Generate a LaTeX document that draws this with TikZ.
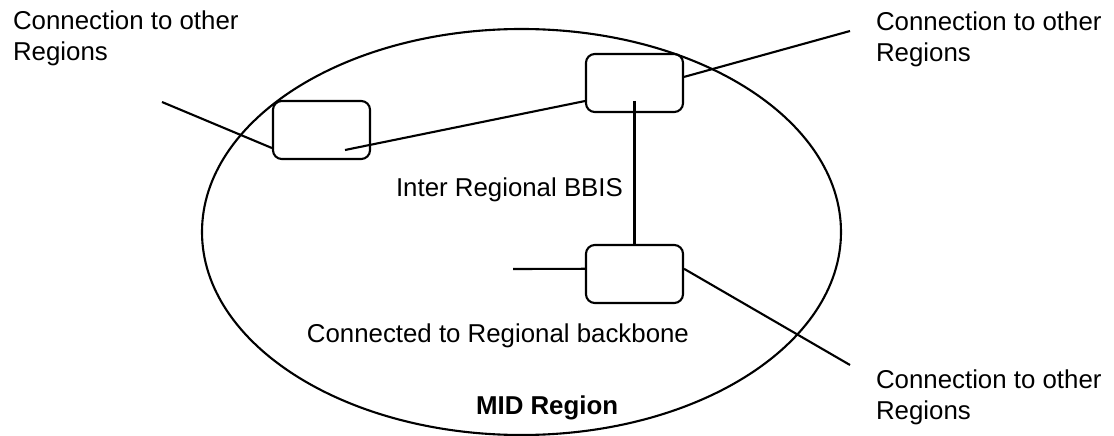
\documentclass[tikz,border=0pt]{standalone}
\usepackage{fontspec}
\setmainfont{Liberation Sans}
\usepackage{tikz}
\usetikzlibrary{shapes, calc}

\begin{document}
\begin{tikzpicture}[
    line width = 1.2pt,
    font = \fontsize{14.7}{17.5}\selectfont,
    bbis/.style = {rectangle,
      draw,
      rounded corners = 5pt,
      minimum width = 1.94cm,
      minimum height = 1.16cm},
    note/.style = {align = left,
      anchor = base west,
      inner sep = 0pt}
    ]
    \useasboundingbox (0, 0) rectangle (22.28, -8.72);

    \node at (10.43, -4.64) [ellipse, draw, inner sep = 0pt,
      minimum width = 12.78cm, minimum height = 8.12cm, name = region] {};

    \node at (6.43, -2.60) [bbis, name = B1] {};
    \node at (12.69, -1.66) [bbis, name = B2] {};
    \node at (12.69, -5.48) [bbis, name = B3] {};

    \coordinate (west end) at (3.24, -2.04);
    \coordinate (north end) at (17.00, -0.62);
    \coordinate (south end) at (17.00, -7.30);
    \coordinate (backbone end) at (10.26, -5.38);

    \draw (west end) to (B1.200);
    \draw ($(B1) + (0.47, -0.40)$) to (B2.200);
    \draw ($(B2) + (0, -0.36)$) to (B3.north);
    \draw (B2.7) to (north end);
    \draw (backbone end) to (B3.174);
    \draw (B3.6) to (south end);

    % base of a two-line note is its last line
    \node at (0.24, -1.21) [note, name = west text] {Connection to other\\Regions};
    \node at (17.50, -1.23) [note, name = north text] {Connection to other\\Regions};
    \node at (17.50, -8.38) [note, name = south text] {Connection to other\\Regions};
    \node at (7.90, -3.94) [note, name = inter] {Inter Regional BBIS};
    \node at (13.80, -6.84) [note, anchor = base east, name = backbone] {Connected to Regional backbone};
    \node at (9.50, -8.28) [note, name = mid] {\bfseries MID Region};

  \end{tikzpicture}
\end{document}
